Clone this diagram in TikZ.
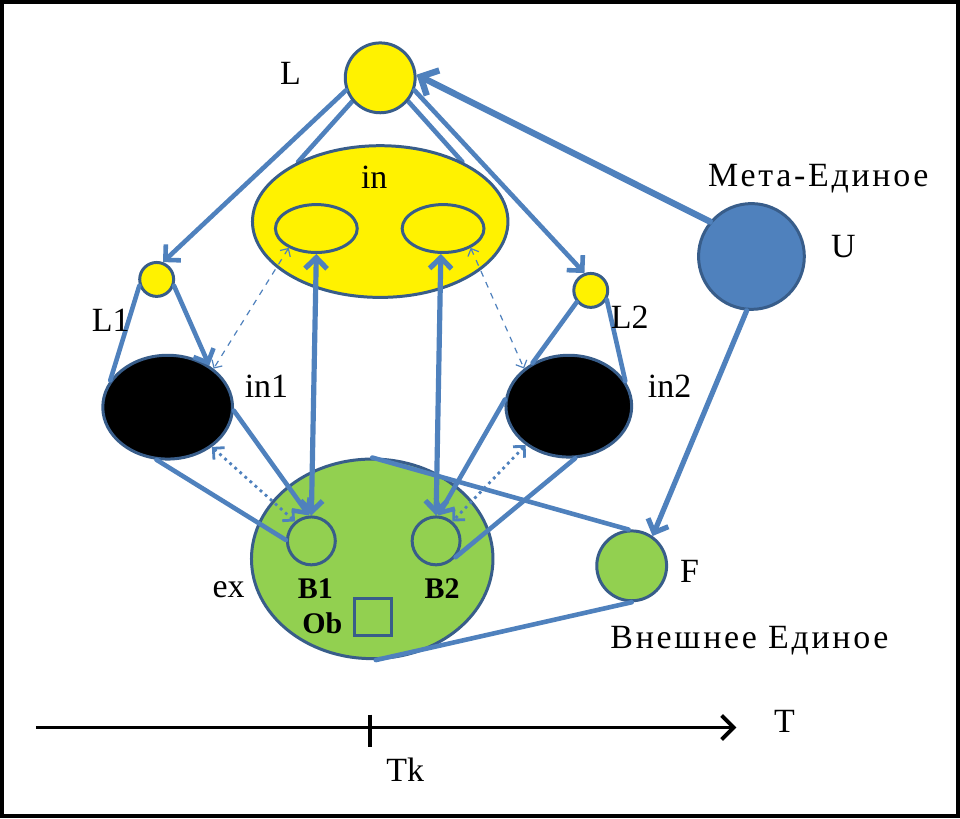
\documentclass[tikz,border=0pt]{standalone}
\usepackage{fontspec}
\setmainfont{Liberation Serif}
\newfontfamily\widefont[LetterSpace=8]{Liberation Serif}
\usetikzlibrary{shapes.geometric,arrows.meta,backgrounds}

\definecolor{linkblue}{RGB}{79,129,189}
\definecolor{rimblue}{RGB}{56,93,138}
\definecolor{leaf}{RGB}{146,208,80}

\begin{document}
\begin{tikzpicture}[x=0.5pt,y=-0.5pt,
		>={Straight Barb[length=5.5pt,width=11pt]},
		ball/.style={circle,draw=rimblue,line width=1.5pt,inner sep=0pt},
		oval/.style={ellipse,draw=rimblue,line width=1.5pt,inner sep=0pt},
		link/.style={draw=linkblue,line width=2.3pt,line cap=round},
		faint/.style={draw=linkblue,line width=0.6pt,dashed,>={Straight Barb[length=3pt,width=6pt]}},
		dots/.style={draw=linkblue,line width=1.4pt,dotted,>={Straight Barb[length=4pt,width=8pt]}},
		lab/.style={font=\fontsize{17}{20}\selectfont,inner sep=0pt},
		widelab/.style={font=\widefont\fontsize{17}{20}\selectfont,inner sep=0pt}]
		% shapes
		\node[ball,fill=yellow,minimum size=35pt] (L) at (380,77) {};
		\node[oval,fill=yellow,minimum width=128pt,minimum height=76pt] (in) at (380,221) {};
		\node[oval,fill=yellow,minimum width=41pt,minimum height=24pt] (inA) at (316,228) {};
		\node[oval,fill=yellow,minimum width=41pt,minimum height=24pt] (inB) at (443,228) {};
		\node[ball,fill=yellow,minimum size=17pt] (Lone) at (156,279) {};
		\node[ball,fill=yellow,minimum size=17pt] (Ltwo) at (591,290) {};
		\node[oval,fill=black,minimum width=65pt,minimum height=52pt] (inone) at (167,407) {};
		\node[oval,fill=black,minimum width=63pt,minimum height=51pt] (intwo) at (569,406) {};
		\node[ball,fill=linkblue,minimum size=53pt] (U) at (752,256) {};
		\node[oval,fill=leaf,minimum width=121pt,minimum height=100pt] (ex) at (372,559) {};
		\node[ball,fill=leaf,minimum size=35pt] (F) at (632,566) {};
		\node[ball,fill=leaf,minimum size=24pt] (Bone) at (311,541) {};
		\node[ball,fill=leaf,minimum size=24pt] (Btwo) at (436,541) {};
		\node[draw=rimblue,line width=1.5pt,minimum size=18.5pt,inner sep=0pt] (Ob) at (373,617) {};

		% frame and lines behind the shapes
		\begin{scope}[on background layer]
			\draw[line width=2pt,fill=white] (1,1) rectangle (959,817);
			\draw[link] (L.220) -- (in.144);
			\draw[link] (L.320) -- (in.36);
		\end{scope}

		% connectors
		\draw[link,->] (L.200) -- (Lone.70);
		\draw[link,->] (L.340) -- (Ltwo.110);
		\draw[link,->,line width=3.2pt,>={Straight Barb[length=7pt,width=14pt]}] (U.140) -- (L.5);
		\draw[link,->,line width=2.6pt] (U.265) -- (F.55);
		\draw[link] (Lone.200) -- (inone.155);
		\draw[link,->] (Lone.340) -- (inone.45);
		\draw[link] (Ltwo.220) -- (intwo.130);
		\draw[link] (Ltwo.330) -- (intwo.24);
		\draw[link,->] (inone.357) -- (Bone.95);
		\draw[link] (inone.258) -- (Bone.178);
		\draw[link,->] (intwo.174) -- (Btwo.85);
		\draw[link] (intwo.277) -- (Btwo.320);
		\draw[link,<->,line width=2.6pt] (inA.270) -- (Bone.90);
		\draw[link,<->,line width=2.6pt] (inB.265) -- (Btwo.90);
		\draw[faint,<->] (inA.215) -- (inone.40);
		\draw[faint,<->] (inB.325) -- (intwo.140);
		\draw[dots,<->] (inone.318) -- (Bone.130);
		\draw[dots,<->] (intwo.222) -- (Btwo.50);
		\draw[link] (ex.90) -- (F.95);
		\draw[link] (ex.272) -- (F.270);

		% labels
		\node[lab] (tL) at (290,73) {L};
		\node[lab] (tin) at (374,177) {in};
		\node[lab] (tLone) at (110,320) {L1};
		\node[lab] (tinone) at (266,386) {in1};
		\node[lab] (tLtwo) at (630,317) {L2};
		\node[lab] (tintwo) at (670,386) {in2};
		\node[widelab] (tmeta) at (819,178) {Мета-Единое};
		\node[lab] (tU) at (844,246) {U};
		\node[lab] (tF) at (690,572) {F};
		\node[widelab] (tout) at (750,641) {Внешнее Единое};
		\node[lab] (tex) at (228,590) {ex};
		\node[lab,font=\fontsize{15}{18}\selectfont\bfseries] (tBone) at (315,589) {B1};
		\node[lab,font=\fontsize{15}{18}\selectfont\bfseries] (tBtwo) at (442,589) {B2};
		\node[lab,font=\fontsize{15}{18}\selectfont\bfseries] (tOb) at (322,624) {Ob};

		% time axis
		\coordinate (t0) at (35,728);
		\coordinate (t1) at (737,728);
		\coordinate (tkup) at (370,715);
		\coordinate (tkdown) at (370,748);
		\draw[line width=2pt,->,>={Straight Barb[length=6pt,width=12pt]}] (t0) -- (t1);
		\draw[line width=2pt] (tkup) -- (tkdown);
		\node[lab] (tT) at (785,722) {T};
		\node[lab] (tTk) at (405,770) {Tk};
	\end{tikzpicture}
\end{document}
